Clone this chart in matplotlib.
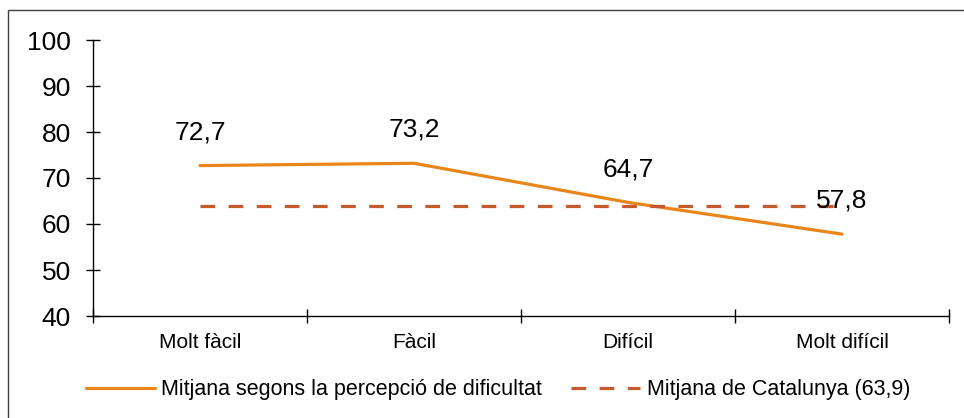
import matplotlib
matplotlib.use("Agg")
import matplotlib.pyplot as plt
from matplotlib.patches import Rectangle
from matplotlib.ticker import FixedLocator, NullFormatter

plt.rcParams['font.family'] = ['Liberation Sans', 'DejaVu Sans']

categories = ['Molt fàcil', 'Fàcil', 'Difícil', 'Molt difícil']
mitjana_percepcio = [72.7, 73.2, 64.7, 57.8]
mitjana_catalunya = 63.9
value_labels = ['72,7', '73,2', '64,7', '57,8']
y_ticks = [40, 50, 60, 70, 80, 90, 100]

orange = '#E8861A'
rust = '#C55A2C'

fig = plt.figure(figsize=(9.64, 4.18), dpi=100)
ax = fig.add_axes([93 / 964, 1 - 316 / 418, 856 / 964, 276 / 418])

x = list(range(len(categories)))
ax.plot(x, mitjana_percepcio, color=orange, lw=2.3, solid_capstyle='round',
        label='Mitjana segons la percepció de dificultat')
ax.plot(x, [mitjana_catalunya] * len(x), color=rust, lw=2.3,
        linestyle=(0, (4.6, 4.2)), label='Mitjana de Catalunya (63,9)')

for xi, yi, txt in zip(x, mitjana_percepcio, value_labels):
    ax.annotate(txt, (xi, yi), xytext=(0, 24), textcoords='offset points',
                ha='center', va='center', fontsize=19, color='black')

ax.set_xlim(-0.5, len(categories) - 0.5)
ax.set_ylim(40, 100)
ax.set_yticks(y_ticks)
ax.tick_params(axis='y', labelsize=19, direction='inout', length=10, width=1, pad=11)

# category boundaries carry the tick marks, names sit in the middle
ax.xaxis.set_major_locator(FixedLocator([i - 0.5 for i in range(len(categories) + 1)]))
ax.xaxis.set_major_formatter(NullFormatter())
ax.set_xticks(x, minor=True)
ax.set_xticklabels(categories, minor=True)
ax.tick_params(axis='x', which='major', direction='inout', length=10, width=1)
ax.tick_params(axis='x', which='minor', length=0, labelsize=15, pad=12)

for side in ['top', 'right']:
    ax.spines[side].set_visible(False)
for side in ['left', 'bottom']:
    ax.spines[side].set_linewidth(1)

fig.legend(loc='center left', bbox_to_anchor=(86 / 964, 1 - 390 / 418), ncol=2,
           frameon=False, fontsize=15.5, handlelength=3.2, handletextpad=0.3,
           columnspacing=1.35, borderaxespad=0, borderpad=0)

fig.patches.append(Rectangle((8 / 964, -0.1), 1.2, 1.1 - 10 / 418,
                             transform=fig.transFigure, fill=False,
                             edgecolor='#404040', lw=1))

fig.savefig('out.png', dpi=100)
